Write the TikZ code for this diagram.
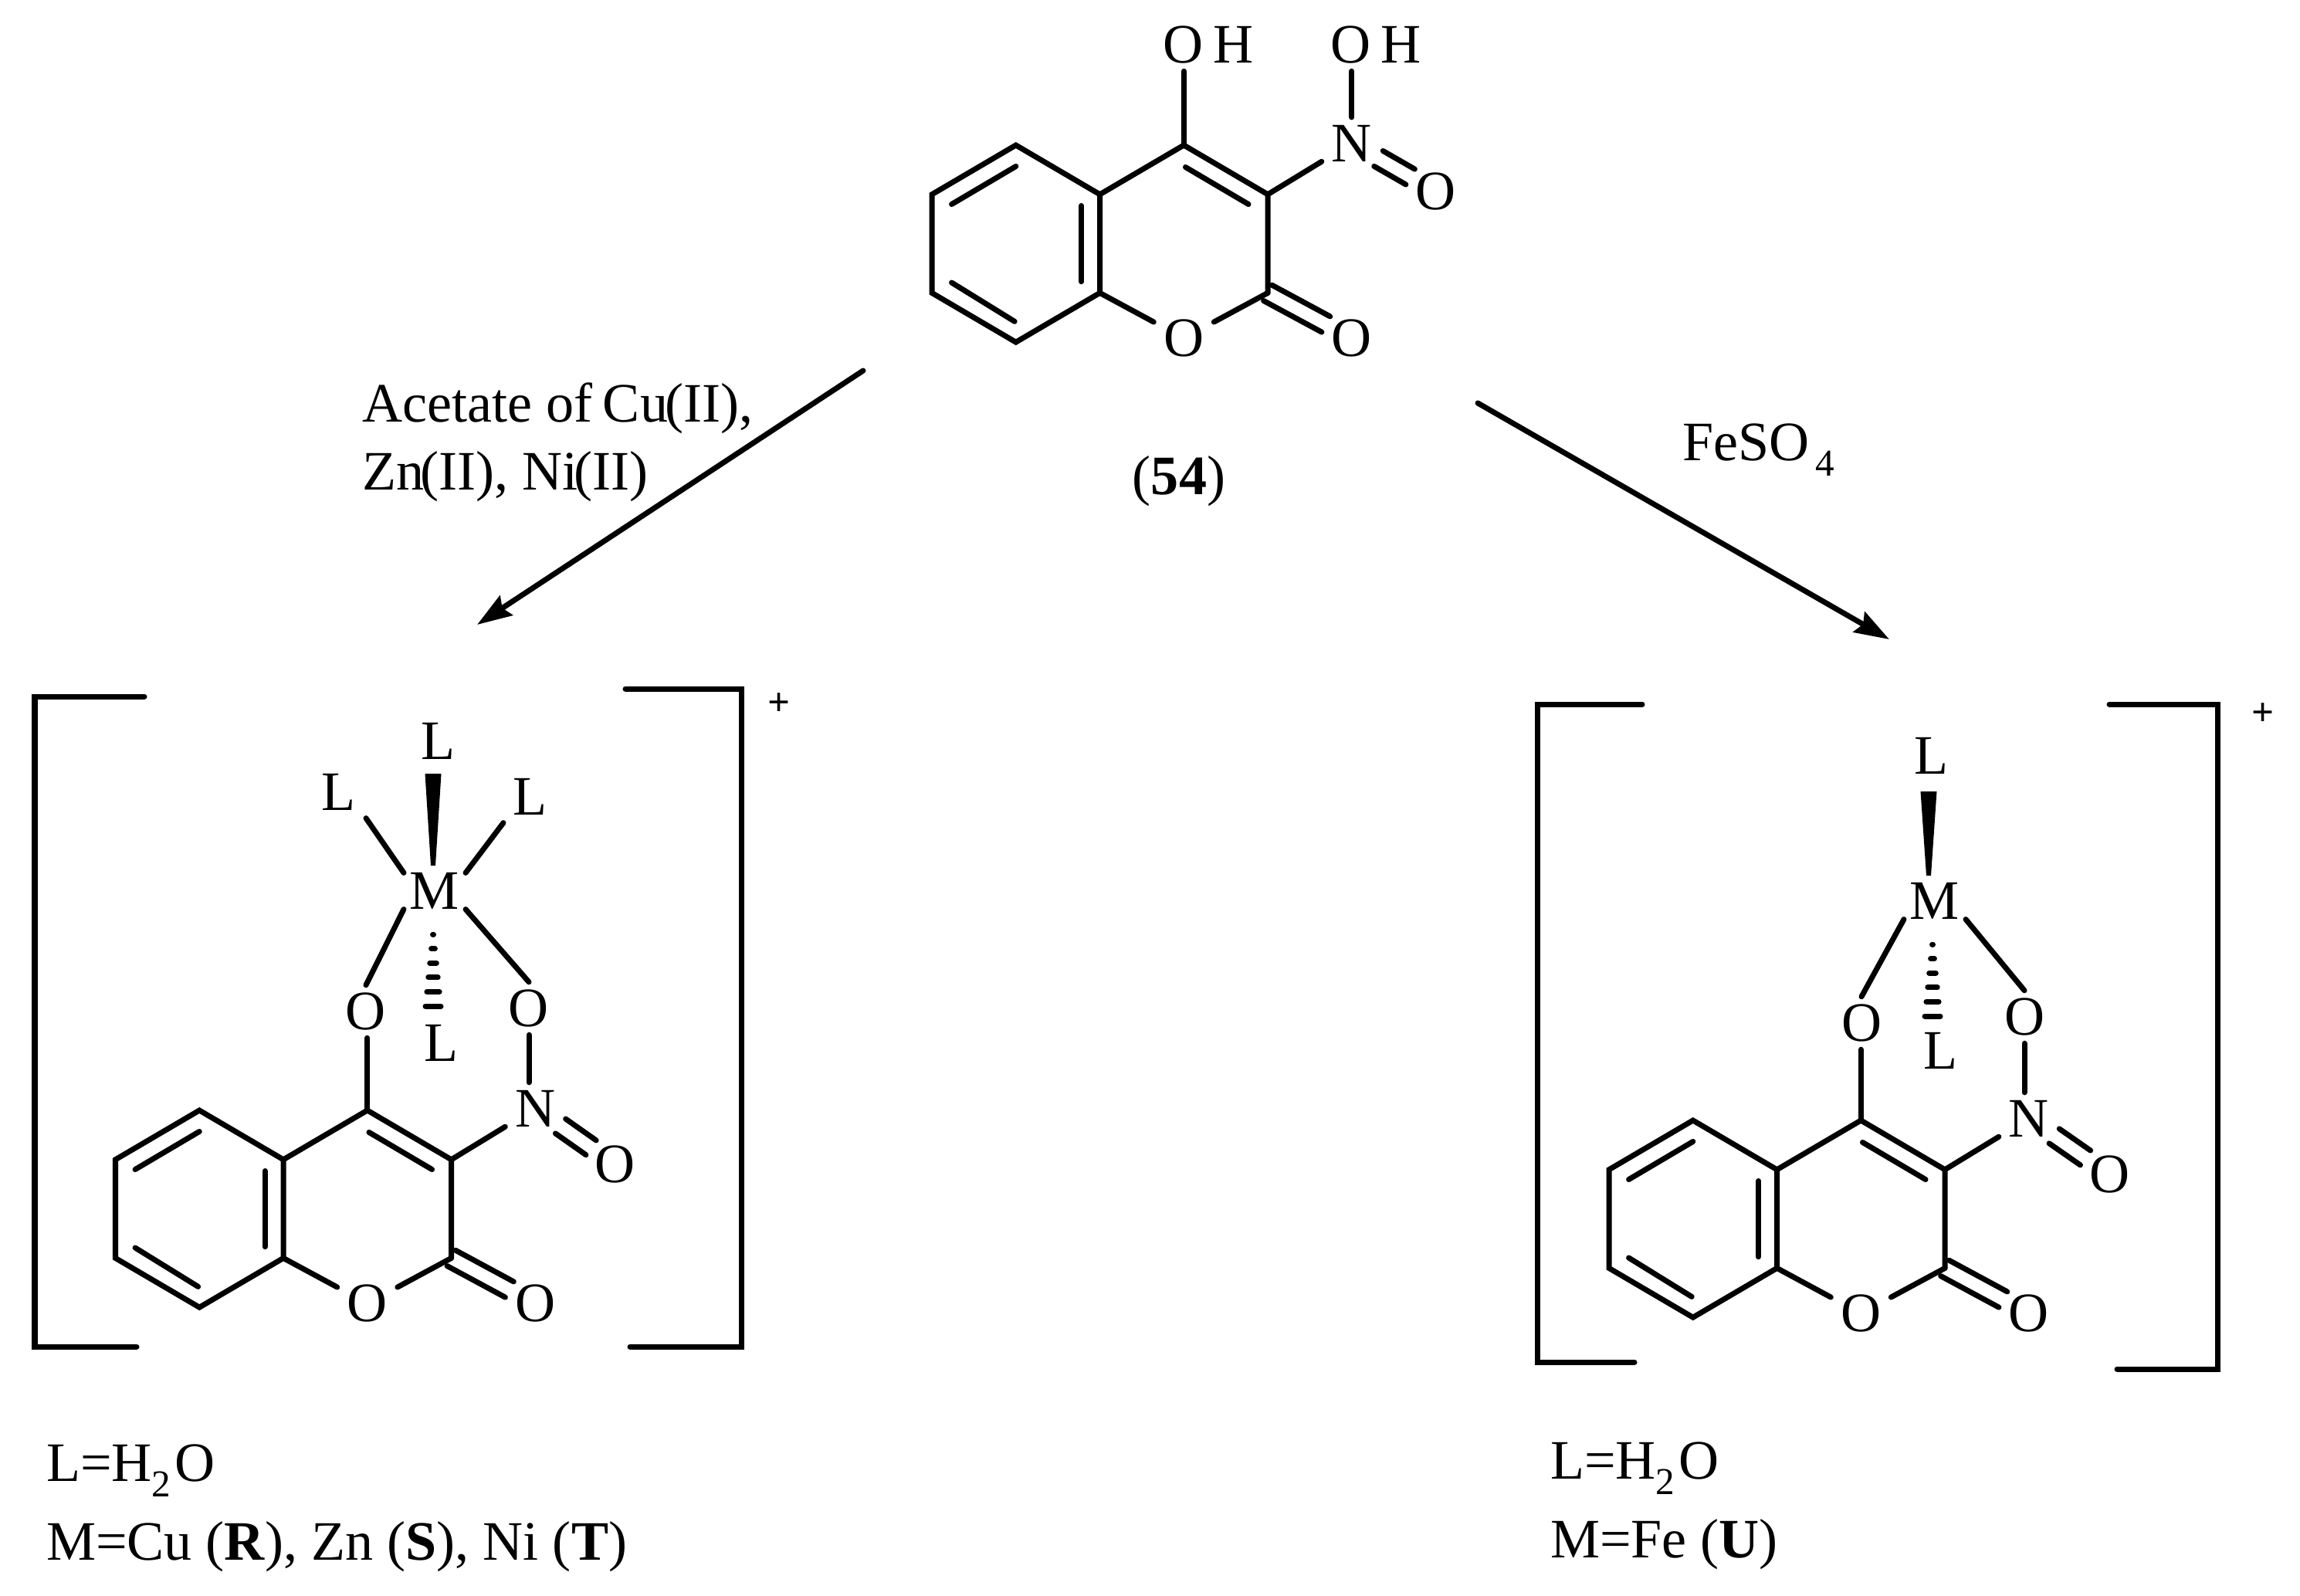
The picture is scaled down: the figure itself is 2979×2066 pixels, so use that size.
\documentclass[tikz,border=0pt]{standalone}
\usepackage{fontspec}
\setmainfont{Liberation Serif}
\usetikzlibrary{arrows.meta,calc}
\newcommand{\subtxt}[1]{\raisebox{-.2cm}{\fontsize{14}{14}\selectfont #1}}
\newcommand{\dblbond}[3]{%
  \draw[bond, shorten <=#1, shorten >=.38cm] ($(#2)!.115cm!90:(#3)$) -- ($(#3)!.115cm!-90:(#2)$);
  \draw[bond, shorten <=#1, shorten >=.38cm] ($(#2)!.115cm!-90:(#3)$) -- ($(#3)!.115cm!90:(#2)$);
}
\newcommand{\coumarin}[1]{%
  \coordinate (c5) at (1,0);
  \coordinate (c6) at (0,1);
  \coordinate (c7) at (0,3);
  \coordinate (c8) at (1,4);
  \coordinate (c8a) at (2,3);
  \coordinate (c4a) at (2,1);
  \coordinate (c4) at (3,0);
  \coordinate (c3) at (4,1);
  \coordinate (c2) at (4,3);
  \coordinate (ia) at (.235,1.2);
  \coordinate (ib) at (1,.43);
  \coordinate (ic) at (.235,2.79);
  \coordinate (id) at (.985,3.58);
  \coordinate (ie) at (1.78,1.23);
  \coordinate (if) at (1.78,2.77);
  \coordinate (ig) at (3.02,.446);
  \coordinate (ih) at (3.77,1.2);
  \node[atom] (o1) at (3,3.92) {O};
  \node[atom] (oc) at (5,3.92) {O};
  \node[atom] (n) at (5,-.04) {N};
  \node[atom] (on) at (#1) {O};
  \dblbond{0cm}{c2}{oc}
  \dblbond{.4cm}{n}{on}
  \draw[bond] (c5) -- (c6) -- (c7) -- (c8) -- (c8a) -- (c4a) -- cycle;
  \draw[bond] (c4a) -- (c4) -- (c3) -- (c2);
  \draw[bond] (c8a) -- (o1);
  \draw[bond] (o1) -- (c2);
  \draw[bond] (c3) -- (n);
  \draw[bond] (ia) -- (ib);
  \draw[bond] (ic) -- (id);
  \draw[bond] (ie) -- (if);
  \draw[bond] (ig) -- (ih);
}
\newcommand{\wedgebond}[3]{%
  \fill ($(#1)+(#2-10.5,-#3)$) -- ($(#1)+(#2+10.5,-#3)$) -- ($(#1)+(#2+3,-33)$) -- ($(#1)+(#2-3,-33)$) -- cycle;
}
\newcommand{\hashbond}[2]{%
  \foreach \k [evaluate=\k as \h using .5+1.9*\k, evaluate=\k as \v using 56+18.6*\k] in {0,...,5}
    \draw[bond] ($(#1)+(#2-\h,\v)$) -- ($(#1)+(#2+\h,\v)$);
}
\tikzset{
  atom/.style={inner xsep=.13cm, inner ysep=.1cm, outer sep=0pt, font=\fontsize{20.5}{25}\selectfont},
  metal/.style={atom, inner xsep=.08cm, inner ysep=0pt},
  txt/.style={inner sep=0pt, outer sep=0pt, align=left, anchor=north west, font=\fontsize{20.5}{25}\selectfont},
  chg/.style={inner sep=0pt, font=\fontsize{14.5}{14.5}\selectfont\bfseries},
  bond/.style={line width=.07cm, line cap=round},
  brak/.style={line width=.07cm, line cap=round},
  line/.style={-{Stealth[length=.45cm,width=.3cm,inset=.06cm]}, line width=.07cm, line cap=round},
  ring/.style={shift={(#1)}, x=1.087cm, y=-.6375cm}
}
\begin{document}
\begin{tikzpicture}[x=.01cm, y=-.01cm]
  \useasboundingbox (0,0) rectangle (2979,2066);
  \begin{scope}[ring={1207,188}, name prefix=t-]
    \coumarin{6,.94}
  \end{scope}
  \node[atom] (oha) at (1565,58) {O\kern.125cm H};
  \node[atom] (ohb) at (1782,58) {O\kern.125cm H};
  \draw[bond] (t-c4) -- (t-c4 |- oha.south);
  \draw[bond] (t-n.north) -- (t-n.north |- ohb.south);
  \node[atom] (cpd) at (1527,623) {(\textbf{54})};

  \coordinate (la) at (1118,480);
  \coordinate (lb) at (618,809);
  \coordinate (ra) at (1914,522);
  \coordinate (rb) at (2447,828);
  \draw[line] (la) -- (lb);
  \draw[line] (ra) -- (rb);
  \node[txt] (acet) at (469,496) {Acetate of\kern-.06em{} Cu\kern-.05em(II),\\Zn\kern-.07em(II), Ni\kern-.07em(II)};
  \node[txt, anchor=base west] (feso) at (2179,596) {FeSO\kern.08cm\subtxt{4}};

  \begin{scope}[ring={149.5,1438}, name prefix=l-]
    \coumarin{5.95,1.1}
  \end{scope}
  \node[metal] (lm) at (563,1154) {M};
  \node[atom] (llt) at (568,960) {L};
  \node[atom] (lla) at (439,1026) {L};
  \node[atom] (llb) at (687,1032) {L};
  \node[atom] (lld) at (572,1351) {L};
  \node[atom] (lol) at (474,1310) {O};
  \node[atom] (lor) at (685,1306) {O};
  \draw[bond] (lla.south east) -- (lm.north west);
  \draw[bond] (llb.south west) -- (lm.north east);
  \draw[bond] (lol.north) -- (lm.south west);
  \draw[bond] (lor.north) -- (lm.south east);
  \draw[bond] (l-c4) -- (l-c4 |- lol.south);
  \draw[bond] (lor.south) -- (lor.south |- l-n.north);
  \wedgebond{lm}{-2}{152}
  \hashbond{lm}{-2}
  \draw[brak] (187,902) -- (45,902) -- (45,1744) -- (177,1744);
  \draw[brak] (810,892) -- (960,892) -- (960,1744) -- (816,1744);
  \node[chg] (lplus) at (1009,912) {+};
  \node[txt] (ldef) at (60,1871) {L=H\subtxt{2}\kern.05cm O\\[.14cm]M=Cu (\textbf{R}), Zn (\textbf{S}), Ni (\textbf{T})};

  \begin{scope}[ring={2084,1451}, name prefix=r-]
    \coumarin{5.96,1.1}
  \end{scope}
  \node[metal] (rm) at (2506,1167) {M};
  \node[atom] (rlt) at (2501,979) {L};
  \node[atom] (rld) at (2513,1361) {L};
  \node[atom] (rol) at (2411,1325) {O};
  \node[atom] (ror) at (2622,1317) {O};
  \draw[bond] (rol.north) -- (rm.south west);
  \draw[bond] (ror.north) -- (rm.south east);
  \draw[bond] (r-c4) -- (r-c4 |- rol.south);
  \draw[bond] (ror.south) -- (ror.south |- r-n.north);
  \wedgebond{rm}{-8}{142}
  \hashbond{rm}{-3}
  \draw[brak] (2127,912) -- (1991,912) -- (1991,1764) -- (2117,1764);
  \draw[brak] (2732,912) -- (2872,912) -- (2872,1773) -- (2742,1773);
  \node[chg] (rplus) at (2931,925) {+};
  \node[txt] (rdef) at (2008,1868) {L=H\subtxt{2}\kern.05cm O\\[.14cm]M=Fe (\textbf{U})};
\end{tikzpicture}
\end{document}
